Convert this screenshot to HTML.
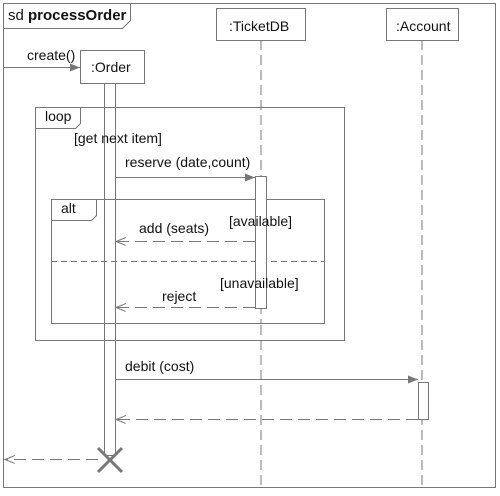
<!DOCTYPE html>
<html><head><style>body{margin:0;background:#fff}</style></head><body>
<svg width="500" height="491" xmlns="http://www.w3.org/2000/svg" font-family="Liberation Sans, sans-serif" font-size="14" fill="#111">
<defs>
<marker id="f" markerWidth="10" markerHeight="8" refX="10" refY="4" orient="auto" markerUnits="userSpaceOnUse"><path d="M0,0 L10,4 L0,8 z" fill="#777"/></marker>
<marker id="o" markerWidth="11" markerHeight="10" refX="10" refY="4" orient="auto" markerUnits="userSpaceOnUse"><path d="M0,0 L10,4 L0,8" fill="none" stroke="#777"/></marker>
</defs>
<g stroke="#777" fill="none" stroke-width="1">
<rect x="3.5" y="3.5" width="492" height="484"/>
<path d="M3.5,28.5 H122.5 L130.5,20.5 V3.5"/>
<line x1="261" y1="40" x2="261" y2="487" stroke-dasharray="10,5"/>
<line x1="422" y1="40" x2="422" y2="487" stroke-dasharray="10,5"/>
<rect x="35.5" y="107.5" width="309" height="233"/>
<path d="M35.5,128.5 H75.5 L80.5,123.5 V107.5"/>
<rect x="51.5" y="199.5" width="273" height="124" fill="#fff"/>
<path d="M51.5,220.5 H91.5 L96.5,215.5 V199.5"/>
<line x1="51" y1="261.5" x2="324" y2="261.5" stroke-dasharray="6,4"/>
<line x1="261" y1="199" x2="261" y2="323" stroke-dasharray="10,5"/>
<rect x="80.5" y="50.5" width="64" height="33" fill="#fff"/>
<rect x="216.5" y="8.5" width="89" height="32" fill="#fff"/>
<rect x="386.5" y="8.5" width="72" height="32" fill="#fff"/>
<rect x="104.5" y="83.5" width="11" height="372" fill="none"/>
<rect x="255.5" y="176.5" width="11" height="132" fill="#fff"/>
<rect x="418.5" y="382.5" width="10" height="37" fill="#fff"/>
<line x1="3" y1="67.5" x2="80" y2="67.5" marker-end="url(#f)"/>
<line x1="115" y1="177.5" x2="255" y2="177.5" marker-end="url(#f)"/>
<line x1="255" y1="241.5" x2="116" y2="241.5" stroke-dasharray="12,6" marker-end="url(#o)"/>
<line x1="255" y1="307.5" x2="116" y2="307.5" stroke-dasharray="12,6" marker-end="url(#o)"/>
<line x1="115" y1="379.5" x2="418" y2="379.5" marker-end="url(#f)"/>
<line x1="418" y1="419.5" x2="116" y2="419.5" stroke-dasharray="12,6" marker-end="url(#o)"/>
<line x1="98" y1="459.5" x2="5" y2="459.5" stroke-dasharray="12,6" marker-end="url(#o)"/>
<path d="M98,448 L122,472 M122,448 L98,472" stroke-width="3"/>
</g>
<text x="8" y="20" font-size="15">sd <tspan font-weight="bold">processOrder</tspan></text>
<text x="27" y="60">create()</text>
<text x="91" y="72">:Order</text>
<text x="229" y="31">:TicketDB</text>
<text x="396" y="31">:Account</text>
<text x="45" y="121">loop</text>
<text x="74" y="143">[get next item]</text>
<text x="125" y="167">reserve (date,count)</text>
<text x="61" y="213">alt</text>
<text x="139" y="233">add (seats)</text>
<text x="229" y="226">[available]</text>
<text x="220" y="288">[unavailable]</text>
<text x="162" y="301">reject</text>
<text x="125" y="371">debit (cost)</text>
</svg>
</body></html>
